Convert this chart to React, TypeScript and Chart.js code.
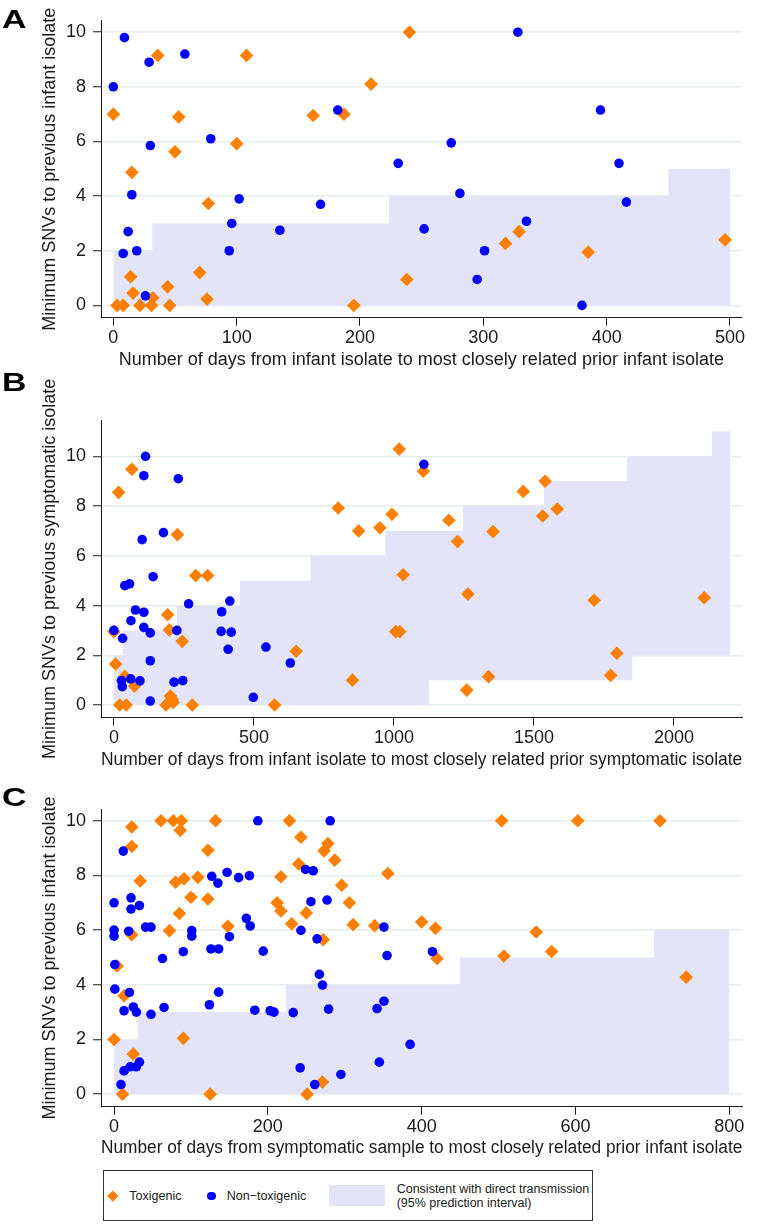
import React, { useEffect, useRef } from 'react';
import { Chart, registerables } from 'chart.js';

Chart.register(...registerables);

const FONT = '"Liberation Sans", Arial, Helvetica, sans-serif';
const ORANGE = '#ff7f00';
const BLUE = '#0000ff';
const SHADE = '#e4e4f9';
const GRID = '#e6eef0';
const INK = '#1a1a1a';

// ---------- Panel A ----------
const A_X_TICKS = [0, 100, 200, 300, 400, 500];
const A_Y_TICKS = [0, 2, 4, 6, 8, 10];
const A_TOX: [number, number][] = [
  [0, 7], [36, 9.15], [108, 9.15], [209, 8.1], [240, 10], [53, 6.9], [162, 6.95], [187, 7],
  [100, 5.92], [50, 5.62], [15, 4.87], [77, 3.73], [14, 1.05], [16, 0.45], [44, 0.68], [70, 1.2],
  [76, 0.23], [3, 0], [8, 0], [21.6, 0], [32, 0.28], [31, 0], [45.7, 0], [195, 0], [238, 0.95],
  [318, 2.27], [329, 2.7], [385, 1.95], [496, 2.4],
];
const A_NONTOX: [number, number][] = [
  [9, 9.8], [0, 8], [29, 8.9], [58, 9.2], [30, 5.85], [79, 6.1], [15, 4.05], [12, 2.7], [8, 1.9],
  [19, 2], [26, 0.35], [102, 3.9], [96, 3], [94, 2], [135, 2.75], [168, 3.7], [182, 7.15],
  [328, 10], [395, 7.15], [274, 5.95], [231, 5.2], [410, 5.2], [281, 4.1], [416, 3.78],
  [335, 3.08], [252, 2.8], [301, 2], [295, 0.95], [380, 0],
];
const A_SHADE_X = [0, 31.6, 223.5, 450, 500];
const A_SHADE_HI = [2, 3, 4, 5, 5];
const A_SHADE_LO = [0, 0, 0, 0, 0];

// ---------- Panel B ----------
const B_X_TICKS = [0, 500, 1000, 1500, 2000];
const B_Y_TICKS = [0, 2, 4, 6, 8, 10];
const B_TOX: [number, number][] = [
  [64, 9.48], [17, 8.55], [227, 6.85], [801, 7.92], [874, 7.0], [950, 7.13], [292, 5.21],
  [335, 5.21], [192, 3.63], [198, 3.02], [244, 2.56], [0, 2.95], [6, 1.65], [39, 1.15],
  [74, 0.76], [651, 2.16], [852, 1.0], [21, 0], [44, 0], [186, 0], [208, 0.23], [202, 0.36],
  [212, 0.1], [280, 0], [574, 0], [1019, 10.29], [1105, 9.4], [993, 7.67], [1196, 7.43],
  [1462, 8.59], [1540, 9.0], [1583, 7.88], [1531, 7.6], [1354, 6.97], [1227, 6.57],
  [1033, 5.24], [1264, 4.46], [1715, 4.21], [2108, 4.31], [1006, 2.95], [1021, 2.95],
  [1796, 2.08], [1774, 1.19], [1338, 1.14], [1260, 0.6],
];
const B_NONTOX: [number, number][] = [
  [113, 10], [107, 9.22], [230, 9.1], [177, 6.93], [101, 6.65], [140, 5.16], [39, 4.8],
  [56, 4.87], [267, 4.07], [77, 3.82], [107, 3.73], [61, 3.39], [107, 3.12], [130, 2.9],
  [0, 3], [31, 2.68], [225, 3], [385, 3.75], [414, 4.18], [383, 2.96], [419, 2.93],
  [408, 2.24], [543, 2.33], [630, 1.69], [130, 1.78], [27, 0.98], [30, 0.74], [60, 1.05],
  [93, 0.97], [215, 0.92], [246, 0.98], [130, 0.16], [498, 0.31], [1107, 9.68],
];
const B_SHADE_X = [0, 31, 224, 450, 702, 969, 1126, 1247, 1536, 1832, 1851, 2136, 2200];
const B_SHADE_HI = [2, 3, 4, 5, 6, 7, 7, 8, 9, 10, 10, 11, 11];
const B_SHADE_LO = [0, 0, 0, 0, 0, 0, 1, 1, 1, 1, 2, 2, 2];

// ---------- Panel C ----------
const C_X_TICKS = [0, 200, 400, 600, 800];
const C_Y_TICKS = [0, 2, 4, 6, 8, 10];
const C_TOX: [number, number][] = [
  [23, 9.77], [23, 9.06], [61, 10], [77, 10], [87.5, 10], [86, 9.65], [132, 10], [122, 8.92],
  [228, 10], [243, 9.4], [278, 9.17], [273, 8.9], [287, 8.56], [240, 8.42], [34, 7.8],
  [80, 7.75], [91, 7.88], [109, 7.93], [217, 7.95], [100, 7.2], [122, 7.14], [212, 7.0],
  [217, 6.7], [85, 6.61], [250, 6.63], [296, 7.64], [306, 7.0], [231, 6.23], [311, 6.2],
  [339, 6.16], [148, 6.14], [72, 5.98], [23, 5.83], [272, 5.65], [4, 4.69], [13, 3.6],
  [0, 2], [90, 2.04], [25, 1.47], [11, 0], [125, 0], [251, 0], [271, 0.44], [504, 10],
  [603, 10], [710, 10], [356, 8.07], [400, 6.3], [418, 6.07], [549, 5.93], [569, 5.22],
  [507, 5.05], [420, 4.96], [744, 4.28],
];
const C_NONTOX: [number, number][] = [
  [12, 8.89], [0, 7], [22, 7.18], [22, 6.77], [33, 6.9], [0, 6], [0, 5.78], [19, 5.96],
  [41, 6.11], [48, 6.11], [1, 4.74], [1, 3.84], [20, 3.72], [13, 3.05], [25, 3.19], [29, 3.0],
  [48, 2.92], [65, 3.17], [63, 4.96], [90, 5.21], [101, 5.98], [101, 5.78], [127, 7.97],
  [135, 7.72], [147, 8.11], [162, 7.92], [176, 7.99], [172, 6.43], [177, 6.15], [150, 5.76],
  [126, 5.31], [136, 5.31], [194, 5.23], [136, 3.73], [124, 3.27], [183, 3.07], [203, 3.05],
  [208, 3.0], [233, 2.98], [187, 10], [281, 10], [249, 8.22], [259, 8.17], [256, 7.04],
  [277, 7.1], [243, 5.99], [264, 5.68], [267, 4.38], [271, 3.99], [279, 3.11], [9, 0.35],
  [13, 0.85], [21, 1.0], [29, 1.0], [33, 1.17], [242, 0.96], [261, 0.35], [295, 0.72],
  [342, 3.13], [351, 3.4], [351, 6.11], [355, 5.07], [414, 5.21], [385, 1.82], [345, 1.17],
];
const C_SHADE_X = [0, 30.8, 223.7, 450, 702, 800];
const C_SHADE_HI = [2, 3, 4, 5, 6, 6];
const C_SHADE_LO = [0, 0, 0, 0, 0, 0];

const LEGEND_LABELS = ['Toxigenic', 'Non\u2212toxigenic', 'Consistent with direct transmission', '(95% prediction interval)'];

type PanelProps = {
  top: number; height: number; padTop: number; plotRight: number; xAxisH: number; xTitlePad: number;
  xMin: number; xMax: number; yMin: number; yMax: number;
  xTicks: number[]; yTicks: number[];
  tox: [number, number][]; nontox: [number, number][];
  shadeX: number[]; shadeHi: number[]; shadeLo: number[];
  xTitle: string; yTitle: string;
};

function Panel(p: PanelProps) {
  const ref = useRef<HTMLCanvasElement | null>(null);
  useEffect(() => {
    if (!ref.current) return;
    const chart = new Chart(ref.current, {
      type: 'scatter',
      data: {
        datasets: [
          {
            label: LEGEND_LABELS[1],
            data: p.nontox.map(([x, y]) => ({ x, y })),
            pointStyle: 'circle',
            pointRadius: 4.8,
            pointBackgroundColor: BLUE,
            pointBorderColor: BLUE,
            pointBorderWidth: 0,
          } as any,
          {
            label: LEGEND_LABELS[0],
            data: p.tox.map(([x, y]) => ({ x, y })),
            pointStyle: 'rectRot',
            pointRadius: 6.8,
            pointBackgroundColor: ORANGE,
            pointBorderColor: ORANGE,
            pointBorderWidth: 0,
          } as any,
          {
            type: 'line',
            label: 'hi',
            data: p.shadeX.map((x, i) => ({ x, y: p.shadeHi[i] })),
            stepped: 'before',
            pointRadius: 0,
            borderWidth: 0,
            borderColor: 'rgba(0,0,0,0)',
            backgroundColor: SHADE,
            fill: '+1',
          } as any,
          {
            type: 'line',
            label: 'lo',
            data: p.shadeX.map((x, i) => ({ x, y: p.shadeLo[i] })),
            stepped: 'before',
            pointRadius: 0,
            borderWidth: 0,
            borderColor: 'rgba(0,0,0,0)',
            backgroundColor: 'rgba(0,0,0,0)',
            fill: false,
          } as any,
        ],
      },
      options: {
        animation: false,
        responsive: false,
        devicePixelRatio: 1,
        events: [],
        layout: { padding: { top: p.padTop, right: 760 - p.plotRight, left: 0, bottom: 0 } },
        plugins: { legend: { display: false }, tooltip: { enabled: false } },
        scales: {
          x: {
            type: 'linear',
            min: p.xMin,
            max: p.xMax,
            afterBuildTicks: (s: any) => { s.ticks = p.xTicks.map((v) => ({ value: v })); },
            afterFit: (s: any) => { s.height = p.xAxisH; },
            grid: { drawOnChartArea: false, drawTicks: true, tickLength: 8, tickColor: INK, tickWidth: 1 },
            border: { display: true, color: INK, width: 1 },
            ticks: { font: { size: 18, family: FONT }, color: INK, padding: 2, maxRotation: 0, autoSkip: false, callback: (v: any) => String(v) },
            title: { display: true, text: p.xTitle, font: { size: 18, family: FONT }, color: INK, padding: { top: 0, bottom: p.xTitlePad } },
          },
          y: {
            type: 'linear',
            min: p.yMin,
            max: p.yMax,
            afterBuildTicks: (s: any) => { s.ticks = p.yTicks.map((v) => ({ value: v })); },
            afterFit: (s: any) => { s.width = 101; },
            grid: { color: GRID, lineWidth: 1.5, drawTicks: true, tickLength: 8, tickColor: INK, tickWidth: 1 },
            border: { display: true, color: INK, width: 1 },
            ticks: { font: { size: 18, family: FONT }, color: INK, padding: 7, callback: (v: any) => String(v) },
            title: { display: true, text: p.yTitle, font: { size: 18, family: FONT }, color: INK, padding: { top: 39, bottom: 0 } },
          },
        },
      } as any,
    });
    return () => chart.destroy();
  }, []);
  return (
    <canvas
      ref={ref}
      width={760}
      height={p.height}
      style={{ position: 'absolute', left: 0, top: p.top, width: 760, height: p.height }}
    />
  );
}

const letterStyle = (top: number): React.CSSProperties => ({
  position: 'absolute', left: 2, top, fontFamily: FONT, fontWeight: 'bold', fontSize: 26, lineHeight: '26px', color: '#000',
  transform: 'scaleX(1.3)', transformOrigin: 'left top',
});

const textStyle = (left: number, top: number): React.CSSProperties => ({
  position: 'absolute', left, top, fontFamily: FONT, fontSize: 12.5, lineHeight: '14px', color: INK, whiteSpace: 'nowrap',
});

export default function App() {
  return (
    <div style={{ position: 'absolute', left: 0, top: 0, width: 760, height: 1225, background: '#fff', overflow: 'hidden' }}>
      <Panel
        top={0} height={372} padTop={20.7} plotRight={741.7} xAxisH={54.3} xTitlePad={1.2}
        xMin={-10} xMax={509.5} yMin={-0.45} yMax={10.42}
        xTicks={A_X_TICKS} yTicks={A_Y_TICKS} tox={A_TOX} nontox={A_NONTOX}
        shadeX={A_SHADE_X} shadeHi={A_SHADE_HI} shadeLo={A_SHADE_LO}
        xTitle="Number of days from infant isolate to most closely related prior infant isolate"
        yTitle="Minimum SNVs to previous infant isolate"
      />
      <Panel
        top={375} height={400} padTop={45} plotRight={742.3} xAxisH={57.3} xTitlePad={4.2}
        xMin={-46} xMax={2244} yMin={-0.51} yMax={11.46}
        xTicks={B_X_TICKS} yTicks={B_Y_TICKS} tox={B_TOX} nontox={B_NONTOX}
        shadeX={B_SHADE_X} shadeHi={B_SHADE_HI} shadeLo={B_SHADE_LO}
        xTitle="Number of days from infant isolate to most closely related prior symptomatic isolate"
        yTitle="Minimum SNVs to previous symptomatic isolate"
      />
      <Panel
        top={775} height={385} padTop={34.3} plotRight={742.3} xAxisH={53.3} xTitlePad={0.9}
        xMin={-17} xMax={817} yMin={-0.46} yMax={10.42}
        xTicks={C_X_TICKS} yTicks={C_Y_TICKS} tox={C_TOX} nontox={C_NONTOX}
        shadeX={C_SHADE_X} shadeHi={C_SHADE_HI} shadeLo={C_SHADE_LO}
        xTitle="Number of days from symptomatic sample to most closely related prior infant isolate"
        yTitle="Minimum SNVs to previous infant isolate"
      />
      <div style={letterStyle(6)}>A</div>
      <div style={letterStyle(369)}>B</div>
      <div style={letterStyle(784)}>C</div>

      <div style={{ position: 'absolute', left: 103, top: 1170, width: 490, height: 51, border: '1px solid #333', boxSizing: 'border-box' }} />
      <div style={{ position: 'absolute', left: 112.7 - 3.8, top: 1196 - 3.8, width: 7.6, height: 7.6, background: ORANGE, transform: 'rotate(45deg) scale(1, 1)' }} />
      <div style={textStyle(129.3, 1189)}>{LEGEND_LABELS[0]}</div>
      <div style={{ position: 'absolute', left: 211.7 - 4.3, top: 1196 - 4.3, width: 8.6, height: 8.6, borderRadius: '50%', background: BLUE }} />
      <div style={textStyle(226.7, 1189)}>{LEGEND_LABELS[1]}</div>
      <div style={{ position: 'absolute', left: 329.3, top: 1185.3, width: 55.4, height: 20.4, background: SHADE }} />
      <div style={textStyle(396.7, 1182)}>{LEGEND_LABELS[2]}</div>
      <div style={textStyle(396.7, 1196.3)}>{LEGEND_LABELS[3]}</div>
    </div>
  );
}
